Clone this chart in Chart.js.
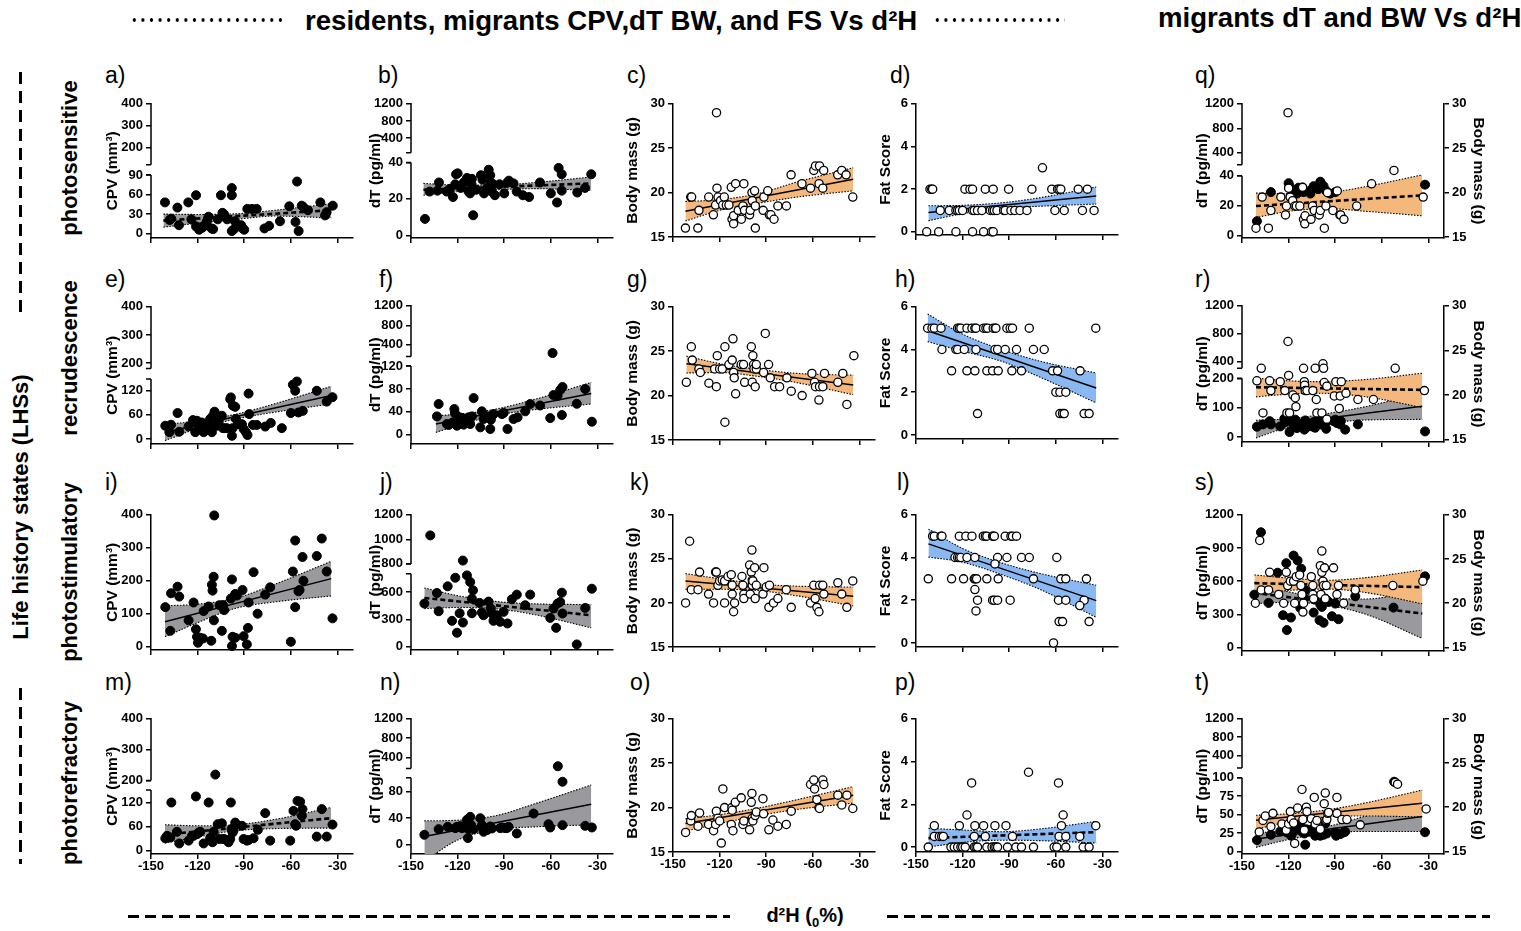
<!DOCTYPE html>
<html>
<head>
<meta charset="utf-8">
<script src="https://cdn.jsdelivr.net/npm/chart.js@4.4.1/dist/chart.umd.min.js"></script>
<style>
  body { margin: 0; background: #fff; font-family: "Liberation Sans", Arial, sans-serif; }
  #page { position: relative; width: 1521px; height: 931px; overflow: hidden; background: #fff; }
  .cv { position: absolute; }
  .lbl { position: absolute; font-size: 23px; line-height: 23px; color: #000; }
  .hd { position: absolute; font-weight: bold; font-size: 27.6px; line-height: 30px; white-space: nowrap; }
  .dots { position: absolute; height: 4px; background-image: radial-gradient(circle, #000 1.5px, transparent 2px); background-size: 8.6px 4px; }
  .dash { position: absolute; height: 3px; background: repeating-linear-gradient(to right, #000 0 11px, transparent 11px 17px); }
  .vdash { position: absolute; width: 3px; background: repeating-linear-gradient(to bottom, #000 0 12px, transparent 12px 19px); }
  .rot { position: absolute; font-weight: bold; font-size: 22px; line-height: 24px; white-space: nowrap; transform: translate(-50%, -50%) rotate(-90deg); }
  .xl { position: absolute; font-weight: bold; font-size: 20px; white-space: nowrap; transform: translate(-50%, -50%); }
  .xl sub { font-size: 13px; }
</style>
</head>
<body>
<div id="page">
  <div class="dots" style="left:130px;top:18px;width:156px"></div>
  <div class="hd" style="left:305px;top:6px">residents, migrants CPV,dT BW, and FS Vs d²H</div>
  <div class="dots" style="left:933px;top:18px;width:132px"></div>
  <div class="hd" style="left:1158px;top:3px">migrants dT and BW Vs d²H</div>

  <div class="vdash" style="left:19px;top:72px;height:240px"></div>
  <div class="rot" style="left:21px;top:507px">Life history states (LHSs)</div>
  <div class="vdash" style="left:19px;top:688px;height:176px"></div>

  <div class="rot" style="left:70px;top:158px">photosensitive</div>
  <div class="rot" style="left:70px;top:358px">recrudescence</div>
  <div class="rot" style="left:70px;top:572px">photostimulatory</div>
  <div class="rot" style="left:70px;top:783px">photorefractory</div>

  <div class="dash" style="left:128px;top:915px;width:602px"></div>
  <div class="xl" style="left:805px;top:917px">d²H (<sub>0</sub>%)</div>
  <div class="dash" style="left:887px;top:915px;width:603px"></div>
</div>

<script>
// ---------- shared axes ----------
const X_TICKS = [-150, -120, -90, -60, -30];
const ticksA = [0, 30, 60, 90, 200, 300, 400];
const ticksE = [0, 60, 120, 200, 300, 400];
const ticksI = [0, 100, 200, 300, 400];
const ticksB = [0, 20, 40, 400, 800, 1200];
const ticksF = [0, 40, 80, 120, 400, 800, 1200];
const ticksJ = [0, 300, 600, 800, 1000, 1200];
const ticksN = [0, 40, 80, 400, 800, 1200];
const ticksR = [0, 100, 200, 400, 800, 1200];
const ticksS = [0, 300, 600, 900, 1200];
const ticksT = [0, 25, 50, 75, 100, 400, 800, 1200];
const ticksBM = [15, 20, 25, 30];
const ticksFS = [0, 2, 4, 6];

// ---------- row 1: photosensitive ----------
const ptsA = [[-141,48],[-138,21],[-137,23],[-133,40],[-132,13],[-126,48],[-124,22],[-121,59],[-121,11],[-119,6],[-117,9],[-116,12],[-114,19],[-113,26],[-111,8],[-110,7],[-107,22],[-105,59],[-104,32],[-103,30],[-101,22],[-98,70],[-98,59],[-98,4],[-97,6],[-96,19],[-94,11],[-92,13],[-91,8],[-90,6],[-88,38],[-85,38],[-82,38],[-77,8],[-74,12],[-67,19],[-61,42],[-57,18],[-56,80],[-55,4],[-53,43],[-52,41],[-49,36],[-41,48],[-38,28],[-37,33],[-33,43]];
const fitA = [[-142,20],[-34,36]];
const hiA = [[-142,30],[-120,29.5],[-95,30.5],[-70,36],[-34,46]];
const loA = [[-142,10],[-120,16],[-95,22],[-70,27],[-34,24]];

const ptsB = [[-141,9],[-138,24],[-133,24.5],[-132,29],[-127,24],[-125,25.5],[-123,21],[-121.5,28],[-121,33.5],[-120,34],[-118,26],[-116,29],[-114,31.5],[-113,24],[-112,23],[-111,28],[-110.8,31],[-110,11],[-108,25],[-105,33],[-104,30.5],[-103,23],[-101,26],[-100,36],[-99,33],[-98.6,29],[-98,24],[-97,28],[-96,22],[-93,28],[-90,23],[-88,29],[-87,30],[-84,28.5],[-82,24],[-78,22],[-74,21],[-67,29],[-60,23],[-56,18],[-55,37],[-53,33.5],[-53,24.5],[-43,23.5],[-38,26],[-34,33.5]];
const fitB = [[-142,25],[-34,28.5]];
const hiB = [[-142,28.5],[-120,27.6],[-95,27.6],[-70,29],[-34,32]];
const loB = [[-142,22],[-120,24],[-95,25],[-70,25.6],[-34,24.6]];

const ptsC = [[-142,16],[-138.6,19.5],[-138,19.5],[-133.3,18],[-134,16],[-127,19.5],[-124,17.5],[-122.6,18.6],[-122,29],[-121.7,20.5],[-121,19.5],[-119.4,19.1],[-118,18.6],[-117,19.5],[-115.7,18.6],[-114,18.6],[-112.5,20.6],[-112,17],[-111,16.5],[-111,17.4],[-109.7,21],[-108,18],[-106,17],[-105,18.5],[-104.4,21],[-104,18],[-100.7,17.5],[-100.3,18],[-99.2,20],[-99,19.1],[-97.5,20.2],[-97,16],[-97,18.5],[-92,18],[-91.5,19.5],[-89,20.2],[-88,17.5],[-87,17.5],[-85,17],[-82.5,18.5],[-77,18.5],[-74,22],[-67,21],[-61.5,20.5],[-59.4,22.5],[-58.3,23],[-55.7,23],[-56,21],[-53.6,20.5],[-53,22.5],[-44,22],[-41.4,22.5],[-38.6,22],[-34.3,19.5]];
const fitC = [[-142,17.9],[-34,21.5]];
const hiC = [[-142,19],[-120,19.2],[-95,19.9],[-70,21.2],[-34,22.8]];
const loC = [[-142,16.8],[-120,18],[-95,18.8],[-70,19.5],[-34,20.2]];

const ptsD = [[-141,2],[-139.9,2],[-139.3,2],[-118.5,2],[-115.3,2],[-113.6,2],[-105.4,2],[-100.3,2],[-90.4,2],[-75.4,2],[-62.6,2],[-58.9,2],[-57.9,2],[-56.8,2],[-45.6,2],[-39.7,2],
  [-134.4,1],[-128.6,1],[-124.3,1],[-123.2,1],[-122.1,1],[-120,1],[-113.6,1],[-112.5,1],[-110.4,1],[-107.6,1],[-102.2,1],[-100.7,1],[-99.6,1],[-97.9,1],[-93.6,1],[-92.6,1],[-88.9,1],[-86.4,1],[-83.1,1],[-78.6,1],[-60.6,1],[-54.6,1],[-42.9,1],[-35.4,1],
  [-143.1,0],[-135.4,0],[-124.3,0],[-113.6,0],[-106.5,0],[-101.4,0],[-100.3,0],[-68.6,3]];
const fitD = [[-142,0.9],[-34,1.68]];
const hiD = [[-142,1.22],[-120,1.24],[-95,1.36],[-70,1.6],[-34,2.1]];
const loD = [[-142,0.52],[-120,0.85],[-95,1.1],[-70,1.2],[-34,1.3]];

const dtQ = [[-140.4,9.5],[-131.4,29],[-120,35],[-119.4,33],[-118,27],[-115.7,30],[-114.6,28],[-113.6,32],[-112.5,30],[-111,32],[-110.4,29],[-106,28],[-105,31],[-103.9,33],[-101,31],[-99.6,36],[-98.6,34],[-97.5,33],[-96,30],[-93.2,28],[-90,29],[-32.2,34]];
const bmQ = [[-141,16],[-137,19.5],[-133,16],[-131.4,18],[-125,19.5],[-122,17.5],[-121.4,18.5],[-120.4,29],[-120,20.5],[-119,19.5],[-117.4,19.1],[-116,18.5],[-115,18.5],[-112.8,18.5],[-111,20.6],[-110.4,17],[-109.6,16.5],[-109.4,17.4],[-105.6,17],[-104.6,18.5],[-103.5,18],[-100.3,17.5],[-99.6,18],[-97,16],[-96,18.5],[-95,20],[-91.5,18],[-88.7,20.2],[-87,17.5],[-86.5,17.5],[-84.4,17],[-76.2,18.5],[-66.6,21],[-52.2,22.5],[-33.4,19.5]];
const fitQ = [[-141,18.5],[-34,19.7]];
const hiQ = [[-141,19.95],[-120,19.9],[-95,20],[-70,20.7],[-34,22]];
const loQ = [[-141,17.2],[-120,17.9],[-95,18.2],[-70,17.9],[-34,17.4]];

// ---------- row 2: recrudescence ----------
const ptsE = [[-140.8,33],[-138.2,17],[-137.1,35.6],[-132.9,64.6],[-131.8,18],[-125.8,31.5],[-123,47],[-121.5,17],[-120.4,45.5],[-119.4,33],[-118.3,25],[-117.2,41],[-116.1,17],[-114.4,29],[-112.9,33],[-111.9,50],[-110.8,17],[-110.1,58],[-109.1,68],[-107.6,33],[-106.5,43],[-104.4,58],[-103.7,27],[-102.9,27],[-101.1,27],[-99,99],[-98.6,103.5],[-97.9,8],[-97.5,27],[-97.3,83],[-95.8,80],[-95.4,50],[-94,37],[-91.5,37],[-90.4,25],[-88.9,17],[-87.9,10],[-87.2,113],[-86.8,62],[-84.4,35],[-81.9,35],[-76.5,31],[-72.9,40],[-65.8,27],[-60,64.6],[-58.7,135],[-57.2,120],[-56.1,143],[-55.1,66],[-52.3,70],[-43.3,120],[-36.9,93],[-33.2,104]];
const fitE = [[-141,17],[-34,108]];
const hiE = [[-141,36],[-120,45],[-95,62],[-70,88],[-34,131]];
const loE = [[-141,-4],[-120,26],[-95,50],[-70,67],[-34,87]];

const ptsF = [[-133.3,32],[-132.2,53.6],[-126.9,18.6],[-125.8,17],[-123.2,21.5],[-122.1,44.8],[-121.7,37.3],[-120.4,15.7],[-118.7,30.3],[-117.2,29],[-116.1,17.5],[-114,27.4],[-112.9,30.3],[-111.9,18.6],[-110.8,32],[-109.7,64],[-105.4,12.8],[-104.4,40.8],[-103.3,27.4],[-101.1,32],[-99,9.9],[-98.6,26.2],[-97.9,33.2],[-96.9,36],[-91.5,36],[-90.4,38],[-87.9,9.9],[-84,27.4],[-81.4,30.3],[-76.5,40.8],[-73.3,53.6],[-66.9,51],[-60.4,29],[-58.9,229],[-58.3,69.3],[-55.7,68],[-54,78],[-52.5,83.3],[-52.9,34.4],[-43.3,54],[-37.9,79.8],[-33.6,22.7]];
const fitF = [[-134,18.6],[-34,72]];
const hiF = [[-134,33],[-115,37],[-95,45],[-70,62],[-34,91.4]];
const loF = [[-134,4],[-115,20],[-95,34],[-70,44],[-34,53.6]];

const ptsG = [[-141.4,21.5],[-138.2,25.5],[-137.6,24],[-133.3,23],[-132.4,22.6],[-126.9,21.4],[-123.2,23],[-122.1,21],[-121.5,24.5],[-120,23],[-118.3,23],[-116.6,25.5],[-116.6,17],[-114,23.5],[-111.9,24],[-111.4,26.4],[-111,22.6],[-110.6,22],[-109.7,20.2],[-106.1,23.5],[-104.6,23.5],[-103.9,21.5],[-99.6,25.5],[-99,21.5],[-98.6,24.5],[-98.1,23.5],[-97.9,23],[-97.1,21],[-96.4,23],[-96.4,23.5],[-91.7,22.6],[-90.6,27],[-88.5,23.5],[-87.4,22],[-84.6,21],[-81.4,21],[-76.7,22],[-73.9,20.5],[-66.9,20],[-60.6,22.5],[-58.9,21.5],[-58.3,21],[-56.1,19.5],[-55.7,21],[-53.6,21],[-52.5,22.5],[-43.9,21.5],[-40.7,22.5],[-38.1,19],[-33.6,24.5]];
const fitG = [[-141.4,23.6],[-34,21.2]];
const hiG = [[-141.4,24.45],[-120,23.6],[-95,22.95],[-70,22.5],[-34,22.3]];
const loG = [[-141.4,22.55],[-120,22.6],[-95,22.15],[-70,21.45],[-34,20.1]];

const ptsH = [[-142.5,5],[-139.7,5],[-138.2,5],[-133.9,5],[-123.2,5],[-122.1,5],[-121.1,5],[-117.2,5],[-114,5],[-112.1,5],[-111.4,5],[-106.5,5],[-105,5],[-103.9,5],[-100.3,5],[-99,5],[-98.6,5],[-91.5,5],[-89.4,5],[-87.9,5],[-77.1,5],[-34.3,5],
  [-133.3,4],[-124.3,4],[-123.2,4],[-118.9,4],[-111.4,4],[-99.2,4],[-97.5,4],[-92.6,4],[-85.3,4],[-74.4,4],[-67.5,4],
  [-127.1,3],[-117.2,3],[-112.1,3],[-104.4,3],[-100.7,3],[-97.1,3],[-88.3,3],[-82.1,3],[-62.1,3],[-58.9,3],[-44.4,3],
  [-60,2],[-57.4,2],[-53.6,2],[-110.4,1],[-57.4,1],[-55.7,1],[-54.6,1],[-41.8,1],[-38.6,1]];
const fitH = [[-142.5,4.88],[-34,2.2]];
const hiH = [[-142.5,5.66],[-120,4.72],[-95,4],[-70,3.45],[-34,2.9]];
const loH = [[-142.5,4.37],[-120,3.92],[-95,3.45],[-70,2.7],[-34,1.5]];

const dtR = [[-140.4,35],[-136.5,43],[-132.2,54],[-131.4,43],[-125.4,36],[-122.8,62],[-122.1,51],[-121.1,62],[-120,59],[-119.4,17],[-117.9,53],[-116.8,39.5],[-115.7,59],[-114.6,30.5],[-112.5,42],[-109.9,25],[-109.3,56.5],[-108.2,34],[-105,36],[-103.9,51],[-102.9,31.6],[-101.8,53],[-100.7,60],[-98.6,42],[-95.8,28],[-95.4,53],[-91.1,54],[-90,59],[-88.9,47.5],[-86.8,43],[-86.4,54],[-83.6,25],[-75.4,43],[-32.2,19]];
const bmR = [[-140.4,21.6],[-137.6,23],[-136.5,18],[-132.2,21.6],[-131.4,20.5],[-125.4,21.5],[-122.4,20.5],[-121.1,18],[-120.4,26],[-120,22.2],[-119.4,18],[-117.2,20],[-115.7,19.7],[-115.3,18.7],[-110.4,23],[-109.9,21.5],[-109.7,21.1],[-109.3,20.5],[-108.2,20.5],[-104.4,20.5],[-102.9,23],[-102.2,19.5],[-101.8,18],[-98.6,18],[-97.9,23.5],[-97.5,23],[-97.1,21.4],[-95.4,21],[-95.4,17.3],[-90.6,19.9],[-89.6,21.5],[-87.4,18.5],[-86.8,19.9],[-86.1,21.5],[-83.1,20.2],[-75.4,19.5],[-65.4,19.5],[-51.4,23],[-32.6,20.5]];
const fitR = [[-141,20.87],[-34,20.58]];
const hiR = [[-141,21.9],[-120,21.6],[-100,21.5],[-70,21.75],[-34,22.45]];
const loR = [[-141,19.8],[-120,20.1],[-100,20.2],[-70,19.8],[-34,18.6]];
const fitR2 = [[-141,34],[-34,105]];
const hiR2 = [[-141,57],[-120,62],[-95,80],[-70,104],[-34,150]];
const loR2 = [[-141,-3],[-120,33],[-95,48],[-70,58],[-34,60]];

// ---------- row 3: photostimulatory ----------
const ptsI = [[-140.8,120],[-137.6,48],[-137.1,162],[-132.9,182],[-131.8,152],[-125.8,80],[-122.6,134],[-121.1,53],[-120.4,30],[-119.8,12],[-118.3,27],[-116.6,25],[-116.1,108],[-112.9,122],[-111.2,18],[-110.8,188],[-110.4,170],[-109.7,212],[-109.3,398],[-109.5,80],[-105.9,126],[-104.4,48],[-103.7,126],[-102.9,111],[-98.6,146],[-97.9,2],[-97.9,204],[-97.5,30],[-95.8,27],[-95.8,160],[-94.7,155],[-91.1,172],[-90.4,32],[-88.3,7],[-87.6,57],[-87.2,134],[-84,226],[-81.4,100],[-76.5,158],[-73.3,180],[-60,15],[-58.7,228],[-57.2,120],[-57.2,322],[-55.1,168],[-54.4,172],[-52.5,272],[-51.9,200],[-43.3,275],[-40.1,328],[-36.9,228],[-33.2,86]];
const fitI = [[-141,75.6],[-34,206.5]];
const hiI = [[-141,124],[-120,129],[-95,148],[-70,190],[-34,259]];
const loI = [[-141,30],[-120,73],[-95,117],[-70,136],[-34,154]];

const ptsJ = [[-141.4,473],[-137.6,1032],[-133.3,589],[-132.2,389],[-126.4,662],[-123.6,284],[-121.5,756],[-120.4,153],[-118.7,367],[-116.6,827],[-116.6,265],[-114,782],[-111.9,709],[-110.8,527],[-110.1,618],[-110.8,367],[-105.9,480],[-104.4,375],[-103.3,345],[-100.1,495],[-98.6,418],[-97.9,364],[-96.9,284],[-94.7,345],[-92.6,273],[-90.4,382],[-87.9,255],[-85.1,520],[-81.9,571],[-76.5,455],[-73.3,571],[-60.4,316],[-58.3,418],[-56.6,207],[-55.7,473],[-54,491],[-52.9,593],[-52.5,364],[-43.3,25],[-37.9,425],[-33.6,636]];
const fitJ = [[-141.4,535],[-34,345]];
const hiJ = [[-141.4,644],[-120,560],[-95,495],[-70,470],[-34,462]];
const loJ = [[-141.4,418],[-120,430],[-95,415],[-70,350],[-34,207]];

const ptsK = [[-141.9,20],[-139.3,27],[-138.2,21.5],[-133.9,21.5],[-132.9,23.5],[-127.1,21],[-123.9,20],[-122.6,23.5],[-122.1,23.5],[-121.1,22],[-120,22.5],[-118.3,22.6],[-116.8,22.5],[-116.8,20],[-114.6,23],[-112.5,23.2],[-111.9,22],[-111.9,21],[-111,19],[-110.4,20],[-105.6,23],[-105,22],[-104.4,21],[-104.4,20.5],[-100.7,24.3],[-100.3,21],[-99.6,23.5],[-99.2,26],[-99,22.6],[-99,22],[-98.6,22.5],[-97.5,24],[-97.1,20.5],[-96.4,22],[-92.1,21],[-91.5,24],[-90,21.8],[-88.3,19.5],[-87.9,22],[-85.3,20],[-82.5,20.5],[-77.1,21.5],[-73.9,19.5],[-61.5,20],[-59.4,22],[-58.5,20.5],[-57.4,19.5],[-56.1,19],[-55.7,22],[-53.6,22],[-52.9,21],[-43.9,22.3],[-41.4,21],[-38.1,19.5],[-34.3,22.5]];
const fitK = [[-142,22.5],[-34,20.77]];
const hiK = [[-142,23.32],[-120,22.75],[-95,22.15],[-70,21.9],[-34,21.8]];
const loK = [[-142,21.56],[-120,21.55],[-95,21.4],[-70,20.8],[-34,19.65]];

const ptsL = [[-139.3,5],[-138.2,5],[-133.9,5],[-133.3,5],[-122.1,5],[-117.9,5],[-114,5],[-106.7,5],[-105.4,5],[-104.4,5],[-100.7,5],[-100.3,5],[-99.6,5],[-92.6,5],[-88.9,5],[-87.9,5],[-85.3,5],
  [-124.9,4],[-123.2,4],[-122.1,4],[-121.1,4],[-117.2,4],[-112.1,4],[-97.5,4],[-91.5,4],[-82.1,4],[-77.1,4],[-59.4,4],
  [-142.1,3],[-127.1,3],[-119.4,3],[-112.5,3],[-111.9,3],[-111,3],[-104.4,3],[-97.1,3],[-74.4,3],[-56.8,3],[-53.6,3],[-40.3,3],
  [-99.2,3.7],[-112.1,2.5],[-110.4,2],[-100.7,2],[-99.6,2],[-97.5,2],[-89.4,2],[-58.3,2],[-53.6,2],[-41.8,2],[-44.6,1.75],[-111.4,1.5],
  [-57.9,1],[-55.7,1],[-38.6,1],[-61.5,0]];
const fitL = [[-142,4.64],[-34,1.98]];
const hiL = [[-142,5.33],[-120,4.42],[-95,3.75],[-70,3.25],[-34,2.7]];
const loL = [[-142,4.02],[-120,3.78],[-95,3.2],[-70,2.5],[-34,1.2]];

const dtS = [[-142.1,479],[-137.8,1042],[-132.9,404],[-127.1,677],[-123.6,293],[-121.5,763],[-121.1,159],[-118.5,272],[-116.8,832],[-114.2,787],[-112.5,359],[-111.9,713],[-109.9,443],[-109.3,518],[-103.9,317],[-103.3,434],[-100.1,248],[-99.6,389],[-98.6,368],[-97.5,225],[-96.4,443],[-95.4,428],[-94.3,413],[-92.1,284],[-90,398],[-87.9,257],[-77.1,464],[-52.5,362],[-32.2,644]];
const bmS = [[-141.4,20],[-138.6,27.1],[-137.6,21.5],[-132.9,21.5],[-132.2,23.5],[-126.4,21],[-123.2,20],[-121.5,23.5],[-120.6,22],[-118.9,22.5],[-116.8,22.5],[-116.1,20],[-115.1,23],[-112.9,23.2],[-112.1,22],[-111.4,21],[-110.8,19],[-110.4,20],[-105.4,23],[-104.4,22],[-104.4,21],[-103.9,20.5],[-99.6,24.25],[-99.2,21],[-98.6,23.5],[-98.6,25.9],[-97.9,22.5],[-97.5,22],[-96.9,24],[-96.4,20.5],[-95.8,22],[-91.1,24],[-88.9,21],[-87.9,22],[-84.6,20],[-77.1,21.5],[-52.9,22],[-33.6,22.5]];
const fitS = [[-142,22.27],[-34,21.82]];
const hiS = [[-142,23.2],[-120,22.85],[-95,22.6],[-70,22.9],[-34,23.76]];
const loS = [[-142,21.07],[-120,21.45],[-95,21.6],[-70,21.2],[-34,19.94]];
const fitS2 = [[-142,494],[-34,308]];
const hiS2 = [[-142,590],[-120,505],[-95,445],[-70,440],[-34,532]];
const loS2 = [[-142,398],[-120,410],[-95,383],[-70,300],[-34,84]];

// ---------- row 4: photorefractory ----------
const ptsM = [[-140.8,30.6],[-139.7,37],[-137.6,33],[-136.9,120],[-133.3,47],[-131.8,18],[-125.8,25],[-123.6,37],[-122.6,37],[-121.1,135],[-120.4,41],[-119.4,45],[-118.3,47],[-116.1,18],[-112.9,120],[-111.9,31.5],[-111.2,25],[-110.4,21],[-109.7,47],[-108.6,219],[-107.1,66],[-106.1,29],[-104.4,68],[-103.7,29],[-102.9,29],[-100.1,21],[-99,29],[-98.6,120],[-98.1,54],[-97.5,45],[-96.9,50],[-95.8,70],[-91.5,62],[-90.4,29],[-88.3,25],[-87.2,26.5],[-84,31],[-81.2,52],[-76.5,93.5],[-73.3,25],[-60.4,25],[-58.3,99],[-57.2,66],[-56.6,62],[-55.7,124],[-54,122],[-52.9,87],[-52.5,103.5],[-43.3,35],[-40.1,103.5],[-36.9,35],[-33.2,65]];
const fitM = [[-141,40],[-34,81]];
const hiM = [[-141,64.6],[-120,62],[-95,64.6],[-70,78],[-34,107.6]];
const loM = [[-141,19],[-120,34],[-95,50],[-70,55],[-34,56.3]];

const ptsN = [[-141.4,15],[-132.2,23.5],[-126.4,27],[-121.5,25],[-120.4,27],[-118.3,28],[-117.2,25],[-115.1,26],[-114,37.5],[-113.4,10],[-112.9,23.5],[-111.9,42],[-111.4,30],[-109.7,23.5],[-105.4,40],[-104.4,29.5],[-103.7,25],[-103.3,19.5],[-101.1,22],[-99.4,25],[-99,27.5],[-97.9,24.5],[-92.6,25],[-91.5,26],[-89.4,25],[-88.3,25],[-87.2,27],[-81.9,17],[-71.1,47],[-61.5,31],[-60.4,26],[-55.5,214],[-52.5,95],[-52.5,29.5],[-37.9,28.5],[-33.6,26]];
const fitN = [[-141.4,12.5],[-34,61]];
const hiN = [[-141.4,36],[-120,37],[-95,44],[-70,62],[-34,90]];
const loN = [[-141.4,-25],[-120,7],[-95,23],[-70,27],[-34,30]];

const ptsO = [[-141.9,17.2],[-138.6,18.5],[-138.2,19.1],[-133.9,17.9],[-132.9,19.4],[-127.1,18.1],[-123.9,17.4],[-122.6,18.1],[-122.1,19.6],[-121.1,18.8],[-120,18.5],[-118.9,16],[-117.9,22.1],[-116.8,20],[-112.5,18.1],[-112.1,20],[-111.9,19.7],[-111.4,17.4],[-109.9,20.6],[-106.1,21.1],[-105,18.1],[-104.4,18.5],[-100.7,17.5],[-99.6,20.6],[-99.2,21.6],[-99,18.8],[-98.6,18.5],[-97.1,19.1],[-96.4,19.5],[-92.1,21],[-91.7,19.3],[-88.3,17.5],[-85.7,18.6],[-82.5,17.9],[-77.1,18.1],[-73.9,19.6],[-61.5,22.6],[-59.4,23.1],[-58.9,22.1],[-57.4,20.9],[-56.1,20],[-55.7,19.9],[-53.6,23.1],[-52.9,22.6],[-43.9,21.4],[-41.4,20.3],[-38.1,21.4],[-34.3,19.9]];
const fitO = [[-142,18.2],[-34,21.4]];
const hiO = [[-142,18.74],[-120,19.2],[-95,19.95],[-70,20.9],[-34,22.36]];
const loO = [[-142,17.35],[-120,18.2],[-95,19.1],[-70,19.8],[-34,20.5]];

const ptsP = [[-142.1,0],[-127.5,0],[-125.4,0],[-123.2,0],[-121.1,0],[-120,0],[-118.3,0],[-112.5,0],[-111.4,0],[-110.4,0],[-104.4,0],[-101.1,0],[-99.6,0],[-98.6,0],[-97.5,0],[-91.1,0],[-85.7,0],[-82.1,0],[-74.4,0],[-61.1,0],[-59.4,0],[-53.6,0],[-42.4,0],[-38.6,0],
  [-138.2,0.5],[-135,0.5],[-133.5,0.5],[-132.4,0.5],[-112.5,0.5],[-105.4,0.5],[-87.9,0.5],[-57.9,0.5],[-53.6,0.5],[-44.6,0.5],
  [-138.2,1],[-122.1,1],[-112.1,1],[-106.5,1],[-99.2,1],[-92.1,1],[-56.4,1],[-34.3,1],
  [-117.2,1.5],[-55.3,1.5],[-114.2,3],[-58.3,3],[-77.6,3.5]];
const fitP = [[-142,0.42],[-34,0.7]];
const hiP = [[-142,0.88],[-120,0.8],[-95,0.72],[-70,0.85],[-34,1.2]];
const loP = [[-142,0],[-120,0.22],[-95,0.32],[-70,0.3],[-34,0.19]];

const dtT = [[-140.4,15.3],[-131.4,22.5],[-125.4,27],[-122.1,28],[-121.1,25.7],[-118.9,24.3],[-118.3,21.2],[-117.4,25.7],[-116.8,27],[-114.6,30],[-112.5,36],[-111.4,27],[-109.9,24.3],[-109.3,9],[-108.6,30],[-107.1,26.6],[-105,30],[-104.4,27],[-102.9,21.2],[-101.8,22.5],[-99.6,21.2],[-98.6,25.7],[-97.5,22.5],[-96.4,37.8],[-95.4,24.3],[-90,25.7],[-89.4,21.2],[-86.8,23.4],[-84.6,25.7],[-83.6,26.6],[-52.1,94.6],[-32.2,26]];
const bmT = [[-138.9,17.2],[-136.5,18.5],[-135,19],[-131.4,17.8],[-130.1,19.3],[-124.3,18.1],[-121.5,17.4],[-120,18.1],[-118.9,19.5],[-118.3,18.6],[-116.8,18.2],[-116.1,15.9],[-114.2,19.9],[-111.4,22],[-110.8,18.6],[-109.9,17.4],[-108.6,20],[-108.2,19.5],[-105.4,18.7],[-103.5,21.1],[-102.9,18.1],[-101.8,18.5],[-99.6,17.5],[-97.1,20.4],[-96.4,21.6],[-96,18.5],[-95.4,18.6],[-94.9,19.3],[-94.3,19.4],[-88.9,21.1],[-88.9,19.3],[-85.7,18.6],[-82.5,18.6],[-73.9,18],[-51.4,22.8],[-49.9,22.6],[-31.5,19.8]];
const fitT = [[-141,18.52],[-34,20.43]];
const hiT = [[-141,19.08],[-120,19.25],[-95,19.7],[-70,20.5],[-34,21.93]];
const loT = [[-141,17.5],[-120,18.35],[-95,18.9],[-70,19],[-34,18.9]];
const fitT2 = [[-141,16.7],[-34,47.3]];
const hiT2 = [[-141,25],[-120,28],[-95,34],[-70,48],[-34,67]];
const loT2 = [[-141,5.4],[-120,16],[-95,25],[-70,27],[-34,27]];

// ---------- look ----------
const FONT = '"Liberation Sans", Arial, sans-serif';
const GREY = 'rgb(154,154,158)';
const ORANGE = 'rgb(244,184,124)';
const BLUE = 'rgb(138,184,242)';

// layout (page pixels)
const COL_LEFT = [151, 411, 673, 916, 1242];
const TITLE_PAD = [4, 7, 2, 12, 3];
const PLOT_W = 202;
const AL = 52, AR = 52, PR = 10, PT = 10, AB = 26;

Chart.defaults.font.family = FONT;
Chart.defaults.color = '#000';

// y axis with a gap, as in the original figure
const BREAKS = {};
class BrokenScale extends Chart.LinearScale {
  static id = 'broken';
  static defaults = {};
  spec() { return BREAKS[this.chart.canvas.id + ':' + this.id]; }
  toDecimal(v) {
    const b = this.spec();
    const up = b.split + b.gap;
    if (v >= b.hi[0]) return up + (v - b.hi[0]) / (b.hi[1] - b.hi[0]) * (1 - up);
    if (v <= b.lo[1]) return (v - b.lo[0]) / (b.lo[1] - b.lo[0]) * b.split;
    return b.split + b.gap / 2;
  }
  getPixelForValue(v) { return this.getPixelForDecimal(this.toDecimal(v)); }
  getValueForPixel(px) {
    const b = this.spec();
    const d = this.getDecimalForPixel(px);
    const up = b.split + b.gap;
    if (d >= up) return b.hi[0] + (d - up) / (1 - up) * (b.hi[1] - b.hi[0]);
    return b.lo[0] + d / b.split * (b.lo[1] - b.lo[0]);
  }
}
Chart.register(BrokenScale);

const breakAxis = {
  id: 'breakAxis',
  afterDraw(chart) {
    const ctx = chart.ctx;
    Object.values(chart.scales).forEach(sc => {
      const b = BREAKS[chart.canvas.id + ':' + sc.id];
      if (!b) return;
      const left = sc.position === 'left';
      const x = left ? chart.chartArea.left : chart.chartArea.right;
      const dir = left ? -1 : 1;
      const y0 = sc.getPixelForDecimal(0), y1 = sc.getPixelForDecimal(b.split);
      const y2 = sc.getPixelForDecimal(b.split + b.gap), y3 = sc.getPixelForDecimal(1);
      ctx.save();
      ctx.strokeStyle = '#000';
      ctx.lineWidth = 1.5;
      ctx.beginPath();
      ctx.moveTo(x, y0 + 0.75); ctx.lineTo(x, y1);
      ctx.moveTo(x, y2); ctx.lineTo(x, y3 - 0.75);
      ctx.moveTo(x, y1); ctx.lineTo(x + dir * 5, y1);
      ctx.moveTo(x, y2); ctx.lineTo(x + dir * 5, y2);
      ctx.stroke();
      ctx.restore();
    });
  }
};

const PANELS = [
  {id:'a', col:0, top:103, bottom:238, title:'CPV (mm³)', y:{brk:{lo:[-6.7,90], hi:[123,400], split:0.469, gap:0.077}, ticks:ticksA},
   black:ptsA, bands:[{lo:loA, hi:hiA, fit:fitA, color:GREY, dash:true}]},
  {id:'b', col:1, top:103, bottom:238, title:'dT (pg/ml)', y:{brk:{lo:[-1.5,40], hi:[62,1200], split:0.563, gap:0.072}, ticks:ticksB},
   black:ptsB, bands:[{lo:loB, hi:hiB, fit:fitB, color:GREY, dash:true}]},
  {id:'c', col:2, top:103, bottom:237, title:'Body mass (g)', y:{min:15, max:30, ticks:ticksBM},
   white:ptsC, bands:[{lo:loC, hi:hiC, fit:fitC, color:ORANGE, dash:false}]},
  {id:'d', col:3, top:103, bottom:235, title:'Fat Score', y:{min:-0.15, max:6, ticks:ticksFS},
   white:ptsD, bands:[{lo:loD, hi:hiD, fit:fitD, color:BLUE, dash:false}]},
  {id:'q', col:4, top:103, bottom:238, title:'dT (pg/ml)', y:{brk:{lo:[-1.8,40], hi:[205,1200], split:0.464, gap:0.082}, ticks:ticksB},
   y2:{min:14.9, max:30, ticks:ticksBM}, black:dtQ, white:bmQ,
   bands:[{lo:loQ, hi:hiQ, fit:fitQ, color:ORANGE, dash:true, axis:'y2'}]},

  {id:'e', col:0, top:306, bottom:444, title:'CPV (mm³)', y:{brk:{lo:[-12.4,149], hi:[181,400], split:0.473, gap:0.078}, ticks:ticksE},
   black:ptsE, bands:[{lo:loE, hi:hiE, fit:fitE, color:GREY, dash:false}]},
  {id:'f', col:1, top:305, bottom:444, title:'dT (pg/ml)', y:{brk:{lo:[-16.3,120], hi:[160,1200], split:0.564, gap:0.07}, ticks:ticksF},
   black:ptsF, bands:[{lo:loF, hi:hiF, fit:fitF, color:GREY, dash:false}]},
  {id:'g', col:2, top:306, bottom:440, title:'Body mass (g)', y:{min:15, max:30, ticks:ticksBM},
   white:ptsG, bands:[{lo:loG, hi:hiG, fit:fitG, color:ORANGE, dash:false}]},
  {id:'h', col:3, top:306, bottom:439, title:'Fat Score', y:{min:-0.19, max:6, ticks:ticksFS},
   white:ptsH, bands:[{lo:loH, hi:hiH, fit:fitH, color:BLUE, dash:false}]},
  {id:'r', col:4, top:305, bottom:442, title:'dT (pg/ml)', y:{brk:{lo:[-17,200], hi:[305,1200], split:0.468, gap:0.073}, ticks:ticksR},
   y2:{min:14.74, max:30, ticks:ticksBM}, black:dtR, white:bmR,
   bands:[{lo:loR2, hi:hiR2, fit:fitR2, color:GREY, dash:false, axis:'y', order:4},
          {lo:loR, hi:hiR, fit:fitR, color:ORANGE, dash:true, axis:'y2'}]},

  {id:'i', col:0, top:514, bottom:650, title:'CPV (mm³)', y:{min:-10, max:400, ticks:ticksI},
   black:ptsI, bands:[{lo:loI, hi:hiI, fit:fitI, color:GREY, dash:false}]},
  {id:'j', col:1, top:514, bottom:650, title:'dT (pg/ml)', y:{brk:{lo:[-36,800], hi:[800,1200], split:0.564, gap:0.073}, ticks:ticksJ},
   black:ptsJ, bands:[{lo:loJ, hi:hiJ, fit:fitJ, color:GREY, dash:true}]},
  {id:'k', col:2, top:514, bottom:647, title:'Body mass (g)', y:{min:15, max:30, ticks:ticksBM},
   white:ptsK, bands:[{lo:loK, hi:hiK, fit:fitK, color:ORANGE, dash:false}]},
  {id:'l', col:3, top:514, bottom:647, title:'Fat Score', y:{min:-0.19, max:6, ticks:ticksFS},
   white:ptsL, bands:[{lo:loL, hi:hiL, fit:fitL, color:BLUE, dash:false}]},
  {id:'s', col:4, top:514, bottom:651, title:'dT (pg/ml)', y:{min:-30, max:1200, ticks:ticksS},
   y2:{min:14.6, max:30, ticks:ticksBM}, black:dtS, white:bmS,
   bands:[{lo:loS2, hi:hiS2, fit:fitS2, color:GREY, dash:true, axis:'y', order:4},
          {lo:loS, hi:hiS, fit:fitS, color:ORANGE, dash:true, axis:'y2'}]},

  {id:'m', col:0, top:718, bottom:854, title:'CPV (mm³)', y:{brk:{lo:[-8.3,151], hi:[200,400], split:0.473, gap:0.071}, ticks:ticksE},
   black:ptsM, bands:[{lo:loM, hi:hiM, fit:fitM, color:GREY, dash:true}], xLabels:true},
  {id:'n', col:1, top:718, bottom:854, title:'dT (pg/ml)', y:{brk:{lo:[-14,101], hi:[166,1200], split:0.564, gap:0.068}, ticks:ticksN},
   black:ptsN, bands:[{lo:loN, hi:hiN, fit:fitN, color:GREY, dash:false}], xLabels:true},
  {id:'o', col:2, top:718, bottom:852, title:'Body mass (g)', y:{min:15, max:30, ticks:ticksBM},
   white:ptsO, bands:[{lo:loO, hi:hiO, fit:fitO, color:ORANGE, dash:false}], xLabels:true},
  {id:'p', col:3, top:718, bottom:852, title:'Fat Score', y:{min:-0.23, max:6, ticks:ticksFS},
   white:ptsP, bands:[{lo:loP, hi:hiP, fit:fitP, color:BLUE, dash:true}], xLabels:true},
  {id:'t', col:4, top:718, bottom:854, title:'dT (pg/ml)', y:{brk:{lo:[-3.6,100], hi:[132,1200], split:0.564, gap:0.073}, ticks:ticksT},
   y2:{min:14.7, max:30, ticks:ticksBM}, black:dtT, white:bmT,
   bands:[{lo:loT2, hi:hiT2, fit:fitT2, color:GREY, dash:false, axis:'y', order:4},
          {lo:loT, hi:hiT, fit:fitT, color:ORANGE, dash:false, axis:'y2'}], xLabels:true}
];

// panel letters: [id, left, baseline]
const LETTERS = [
  ['a',105,83],['b',378,83],['c',627,83],['d',890,83],['q',1195,83],
  ['e',105,287],['f',379,287],['g',627,287],['h',895,287],['r',1195,287],
  ['i',105,490],['j',380,490],['k',630,490],['l',897,490],['s',1195,490],
  ['m',105,690],['n',380,690],['o',630,690],['p',895,690],['t',1195,690]
];

const page = document.getElementById('page');
LETTERS.forEach(([t, x, base]) => {
  const d = document.createElement('div');
  d.className = 'lbl';
  d.textContent = t + ')';
  d.style.left = x + 'px';
  d.style.top = (base - 19) + 'px';
  page.appendChild(d);
});

function yAxis(spec, pos, title, tpad) {
  return {
    type: spec.brk ? 'broken' : 'linear',
    position: pos,
    min: spec.brk ? spec.brk.lo[0] : spec.min,
    max: spec.brk ? spec.brk.hi[1] : spec.max,
    grid: { drawOnChartArea: false, color: '#000', lineWidth: 1.5, tickLength: 5 },
    border: { display: !spec.brk, color: '#000', width: 1.5 },
    ticks: { color: '#000', font: { size: 13, weight: 'bold' }, padding: 3, autoSkip: false, callback: v => String(v) },
    title: { display: true, text: title, color: '#000', font: { size: 15.5, weight: 'bold' }, padding: { top: tpad, bottom: 0 } },
    afterBuildTicks: sc => { sc.ticks = spec.ticks.map(v => ({ value: v })); },
    afterFit: sc => { sc.width = pos === 'left' ? AL : AR; }
  };
}

function pointSet(pts, filled, axis) {
  return {
    data: pts, yAxisID: axis, showLine: false, order: filled ? 1 : 0, clip: 8,
    pointRadius: filled ? 4.5 : 4.1,
    pointBackgroundColor: filled ? '#000' : '#fff',
    pointBorderColor: '#000',
    pointBorderWidth: filled ? 1 : 1.3
  };
}

function bandSets(b) {
  const axis = b.axis || 'y';
  const ord = b.order || 3;
  const ci = { yAxisID: axis, showLine: true, pointRadius: 0, borderColor: '#000', borderWidth: 1.1,
               borderDash: [1.5, 1.5], cubicInterpolationMode: 'monotone', order: ord };
  return [
    Object.assign({ data: b.lo, fill: false }, ci),
    Object.assign({ data: b.hi, fill: '-1', backgroundColor: b.color }, ci),
    { data: b.fit, yAxisID: axis, showLine: true, pointRadius: 0, borderColor: '#000',
      borderWidth: b.dash ? 2.6 : 1.5, borderDash: b.dash ? [5, 3] : [], fill: false, order: 2 }
  ];
}

PANELS.forEach(p => {
  const H = p.bottom - p.top;
  const hasR = !!p.y2;
  const cv = document.createElement('canvas');
  cv.id = 'cv_' + p.id;
  cv.className = 'cv';
  cv.width = AL + PLOT_W + (hasR ? AR : PR);
  cv.height = PT + H + AB;
  cv.style.left = (COL_LEFT[p.col] - AL) + 'px';
  cv.style.top = (p.top - PT) + 'px';
  page.appendChild(cv);
  if (p.y.brk) BREAKS[cv.id + ':y'] = p.y.brk;

  const datasets = [];
  if (p.white) datasets.push(pointSet(p.white, false, hasR ? 'y2' : 'y'));
  if (p.black) datasets.push(pointSet(p.black, true, 'y'));
  p.bands.forEach(b => bandSets(b).forEach(d => datasets.push(d)));

  const scales = {
    x: {
      type: 'linear', min: -150, max: -20,
      grid: { drawOnChartArea: false, color: '#000', lineWidth: 1.5, tickLength: 5 },
      border: { color: '#000', width: 1.5 },
      ticks: { display: !!p.xLabels, color: '#000', font: { size: 13, weight: 'bold' }, padding: 0,
               maxRotation: 0, autoSkip: false, callback: v => String(v) },
      afterBuildTicks: sc => { sc.ticks = X_TICKS.map(v => ({ value: v })); },
      afterFit: sc => { sc.height = AB; }
    },
    y: yAxis(p.y, 'left', p.title, TITLE_PAD[p.col])
  };
  if (hasR) scales.y2 = yAxis(p.y2, 'right', 'Body mass (g)', 8);

  new Chart(cv, {
    type: 'scatter',
    data: { datasets: datasets },
    options: {
      responsive: false,
      animation: false,
      devicePixelRatio: 1,
      events: [],
      layout: { padding: { top: PT, right: hasR ? 0 : PR, left: 0, bottom: 0 } },
      plugins: { legend: { display: false }, tooltip: { enabled: false } },
      scales: scales
    },
    plugins: [breakAxis]
  });
});
</script>
</body>
</html>
